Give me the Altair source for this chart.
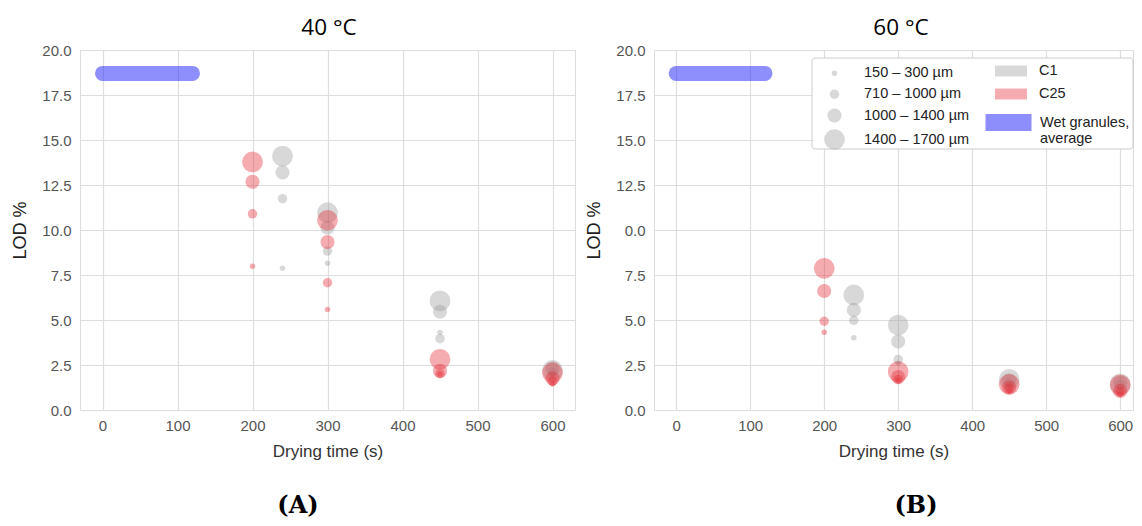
import altair as alt
import pandas as pd

SIZE_CLASSES = ["150 – 300 µm", "710 – 1000 µm", "1000 – 1400 µm", "1400 – 1700 µm"]
SERIES = ["C1", "C25"]
WET_LABEL = "Wet granules, average"
TEMPS = ["40 °C", "60 °C"]
PANEL_LABELS = ["(A)", "(B)"]
X_TICKS = [0, 100, 200, 300, 400, 500, 600]
Y_TICKS = [0, 2.5, 5, 7.5, 10, 12.5, 15, 17.5, 20]

# LOD % per size class, listed small -> large for each drying time
A_C1_TIME = [240, 300, 450, 600]
A_C1_LOD = [[7.87, 11.74, 13.2, 14.1], [8.15, 8.83, 10.13, 10.96],
            [4.3, 3.96, 5.46, 6.06], [2.0, 2.1, 2.3, 2.2]]
A_C25_TIME = [200, 300, 450, 600]
A_C25_LOD = [[7.98, 10.9, 12.68, 13.78], [5.59, 7.07, 9.33, 10.54],
             [2.0, 2.02, 2.17, 2.81], [1.45, 1.6, 1.75, 2.07]]
B_C1_TIME = [240, 300, 450, 600]
B_C1_LOD = [[4.02, 4.98, 5.56, 6.39], [2.6, 2.81, 3.8, 4.72],
            [1.4, 1.5, 1.65, 1.7], [1.3, 1.4, 1.5, 1.45]]
B_C25_TIME = [200, 300, 450, 600]
B_C25_LOD = [[4.32, 4.93, 6.61, 7.87], [1.65, 1.7, 1.83, 2.13],
             [1.06, 1.2, 1.25, 1.43], [0.87, 1.0, 1.06, 1.38]]
WET_START = [0, 0]
WET_END = [120, 120]
WET_LOD = [18.7, 18.7]


def build_points(c1_t, c1_l, c25_t, c25_l):
    rows = []
    for name, times, lods in (("C1", c1_t, c1_l), ("C25", c25_t, c25_l)):
        for t, vals in zip(times, lods):
            for i in range(len(SIZE_CLASSES) - 1, -1, -1):
                rows.append({"time": t, "lod": vals[i], "series": name, "cls": SIZE_CLASSES[i]})
    return pd.DataFrame(rows)


LABEL_FONT = "Liberation Sans"
GRID = "#dedede"


def panel(idx, df, width, xmax, show_legend):
    xscale = alt.Scale(domain=[-30, xmax], nice=False, zero=False)
    yscale = alt.Scale(domain=[0, 20], nice=False)
    label_expr = "datum.value == 10 ? '0.0' : datum.label" if idx == 1 else "datum.label"
    xaxis = alt.Axis(values=X_TICKS, title="Drying time (s)", grid=True, ticks=False, tickSize=0,
                     domain=False, labelFont=LABEL_FONT, labelFontSize=15, labelColor="#555",
                     labelPadding=8, labelFlush=False, titleFont=LABEL_FONT, titleFontSize=17,
                     titleColor="#333", titleFontWeight="normal", titlePadding=10,
                     gridColor=GRID, gridWidth=1.2)
    yaxis = alt.Axis(values=Y_TICKS, format=".1f", labelExpr=label_expr, title="LOD %", grid=True,
                     ticks=False, tickSize=0, domain=False, labelFont=LABEL_FONT, labelFontSize=15,
                     labelColor="#555", labelPadding=9, titleFont=LABEL_FONT, titleFontSize=18,
                     titleColor="#222", titleFontWeight="normal", titlePadding=12,
                     gridColor=GRID, gridWidth=1.2)

    wet_df = pd.DataFrame({"start": [WET_START[idx]], "end": [WET_END[idx]],
                           "lod": [WET_LOD[idx]], "series": [WET_LABEL]})
    if show_legend:
        wet_legend = alt.Legend(title=None, orient="none", legendX=323, legendY=41,
                                symbolType="stroke", symbolSize=2116, symbolStrokeWidth=17,
                                symbolOpacity=0.5, labelFont=LABEL_FONT, labelFontSize=14.5,
                                labelColor="#222", labelOffset=0, padding=0,
                                labelExpr="datum.label == 'Wet granules, average' ? ['Wet granules,', 'average'] : datum.label")
        size_legend = alt.Legend(title=None, orient="none", legendX=170, legendY=16,
                                 symbolFillColor="#9e9e9e", symbolOpacity=0.4, symbolStrokeWidth=0,
                                 labelFont=LABEL_FONT, labelFontSize=14.5, labelColor="#222",
                                 labelOffset=19, rowPadding=6, padding=0)
        color_legend = alt.Legend(title=None, orient="none", legendX=341, legendY=5,
                                  symbolType="M-1,-0.34H1V0.34H-1Z", symbolSize=1024,
                                  symbolOpacity=0.4, symbolStrokeWidth=0, rowPadding=-10,
                                  labelFont=LABEL_FONT, labelFontSize=14.5, labelColor="#222",
                                  labelOffset=12, padding=0)
    else:
        wet_legend = size_legend = color_legend = None

    wet = alt.Chart(wet_df).mark_rule(strokeWidth=15, strokeCap="round", opacity=0.5).encode(
        x=alt.X("start:Q", scale=xscale, axis=xaxis),
        x2="end:Q",
        y=alt.Y("lod:Q", scale=yscale, axis=yaxis),
        color=alt.Color("series:N", scale=alt.Scale(domain=[WET_LABEL], range=["#1e1efa"]),
                        legend=wet_legend),
    )

    pts = alt.Chart(df).mark_circle(opacity=0.4).encode(
        x=alt.X("time:Q", scale=xscale, axis=xaxis),
        y=alt.Y("lod:Q", scale=yscale, axis=yaxis),
        color=alt.Color("series:N", scale=alt.Scale(domain=SERIES, range=["#9e9e9e", "#e4303a"]),
                        legend=color_legend),
        size=alt.Size("cls:N",
                      scale=alt.Scale(type="ordinal", domain=SIZE_CLASSES, range=[30, 90, 200, 430]),
                      legend=size_legend),
    )

    one = pd.DataFrame({"k": [0]})
    label_x = 218 if idx == 0 else 262
    lab = alt.Chart(one).mark_text(
        font="DejaVu Serif", fontWeight="bold", fontSize=24, color="black",
        baseline="middle", align="center").encode(
        x=alt.value(label_x), y=alt.value(456), text=alt.value(PANEL_LABELS[idx]))

    title_x = 249 if idx == 0 else 247
    ttl = alt.Chart(one).mark_text(
        font="Open Sans", fontSize=22.5, color="black", baseline="middle", align="center").encode(
        x=alt.value(title_x), y=alt.value(-22), text=alt.value(TEMPS[idx]))

    layers = [wet, pts]
    if show_legend:
        box = alt.Chart(one).mark_rect(
            fill="white", stroke="#cccccc", strokeWidth=1, cornerRadius=3).encode(
            x=alt.value(158), x2=alt.value(width), y=alt.value(8), y2=alt.value(99))
        layers.append(box)
    layers += [lab, ttl]

    return alt.layer(*layers).resolve_scale(color="independent").properties(
        width=width, height=360)


left = panel(0, build_points(A_C1_TIME, A_C1_LOD, A_C25_TIME, A_C25_LOD), 495, 630, False)
right = panel(1, build_points(B_C1_TIME, B_C1_LOD, B_C25_TIME, B_C25_LOD), 479,
              -30 + 479 / 0.74, True)

chart = alt.hconcat(left, right, spacing=9).resolve_scale(
    color="independent", size="independent"
).properties(
    padding={"left": 3, "top": 8, "right": 0, "bottom": 0}
).configure_view(stroke="#e2e2e2", strokeWidth=1.2).configure(background="white")

chart.save("out.html", embed_options={"renderer": "svg", "actions": False})
